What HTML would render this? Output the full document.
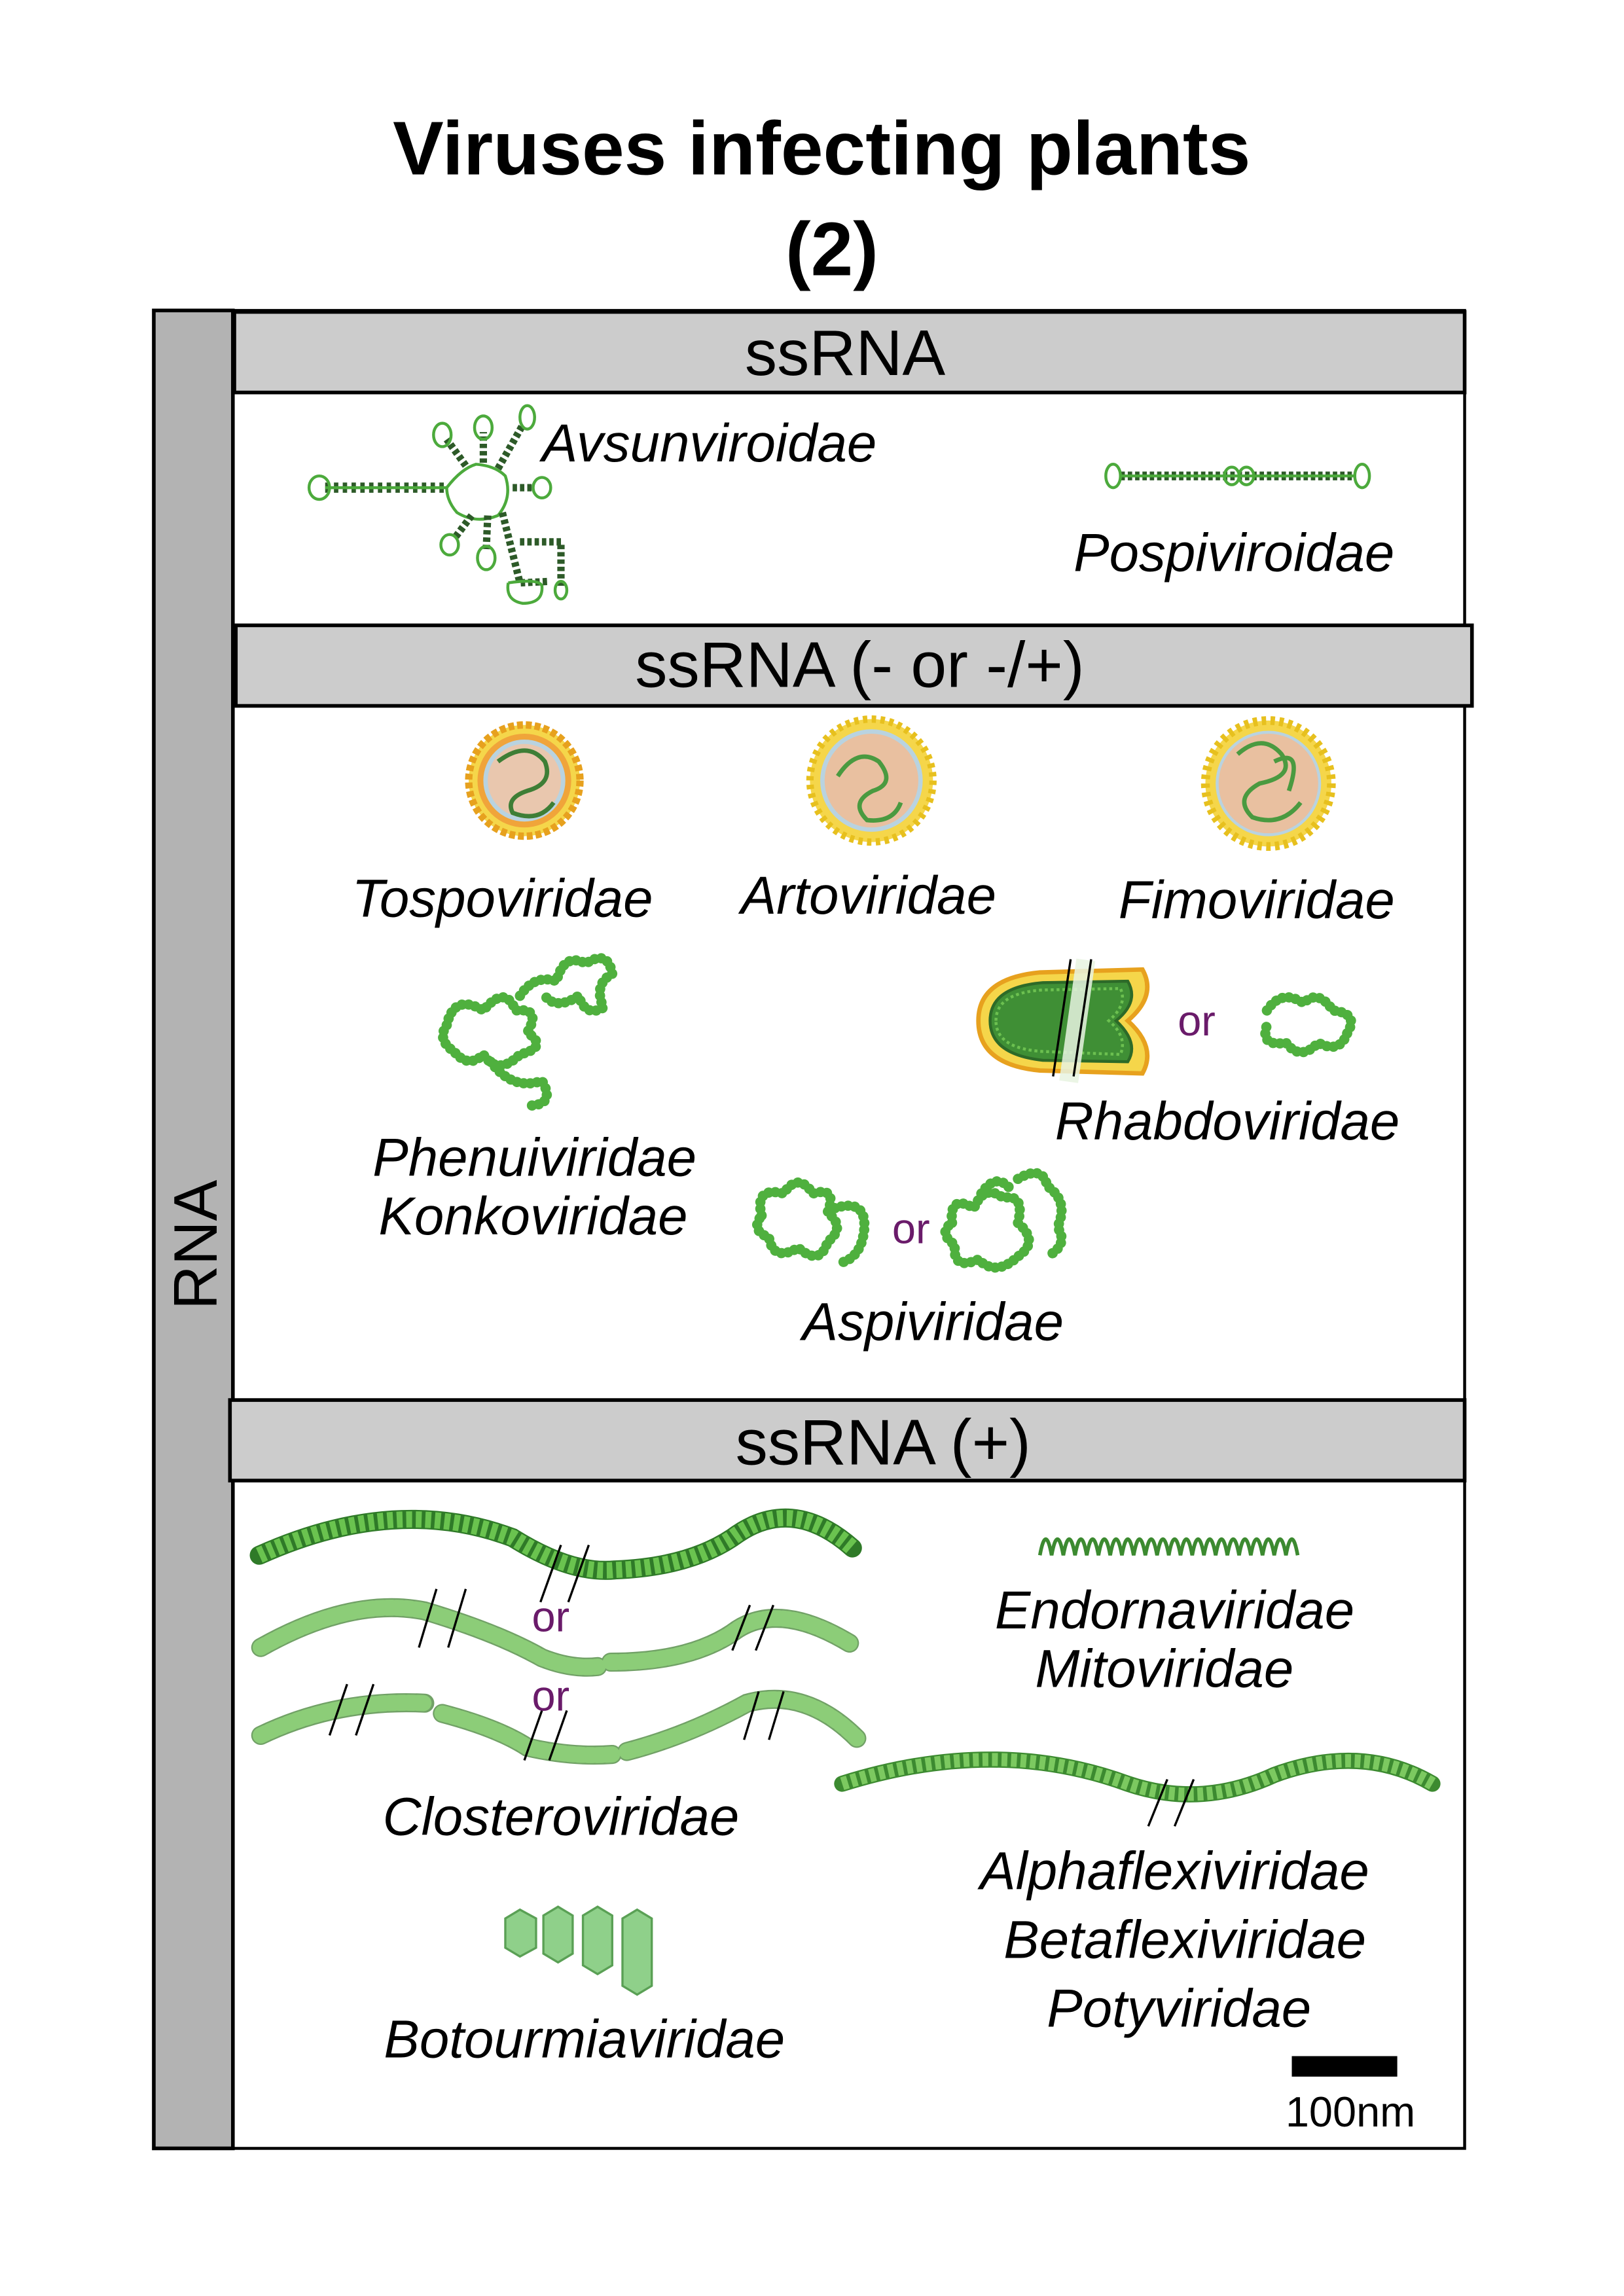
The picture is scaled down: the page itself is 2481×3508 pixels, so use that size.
<!DOCTYPE html>
<html><head><meta charset="utf-8"><style>
html,body{margin:0;padding:0;background:#fff;}
svg{display:block;}
text{font-family:"Liberation Sans",sans-serif;}
.lab{font-size:36.5px;font-style:italic;fill:#000;}
.hd{font-size:44px;fill:#000;}
.or{font-size:29px;fill:#6a1b6a;}
</style></head><body>
<svg width="2481" height="3508" viewBox="0 0 1108.8 1567.8" xmlns="http://www.w3.org/2000/svg">
<rect width="1108.8" height="1567.8" fill="#fff"/>
<text x="561" y="119" text-anchor="middle" font-size="52" font-weight="bold">Viruses infecting plants</text>
<text x="568" y="188" text-anchor="middle" font-size="52" font-weight="bold">(2)</text>

<rect x="105" y="212" width="54" height="1255" fill="#b3b3b3" stroke="#000" stroke-width="2.5"/>
<rect x="159" y="212" width="841" height="1255" fill="none" stroke="#000" stroke-width="2"/>
<text transform="translate(148,850) rotate(-90)" text-anchor="middle" font-size="42">RNA</text>

<rect x="160" y="213" width="840" height="55" fill="#cccccc" stroke="#000" stroke-width="2.5"/>
<text class="hd" x="577" y="256" text-anchor="middle">ssRNA</text>
<rect x="161" y="427" width="844" height="55" fill="#cccccc" stroke="#000" stroke-width="2.5"/>
<text class="hd" x="587" y="469" text-anchor="middle">ssRNA (- or -/+)</text>
<rect x="157" y="956" width="843" height="55" fill="#cccccc" stroke="#000" stroke-width="2.5"/>
<text class="hd" x="603" y="1000" text-anchor="middle">ssRNA (+)</text>

<!-- Avsunviroidae -->
<g fill="none" stroke="#4caa3c" stroke-width="2">
<path d="M222,333 L305,333" stroke="#2d5a28" stroke-width="7" stroke-dasharray="3 3"/>
<path d="M222,333 L305,333" />
<ellipse cx="218" cy="333" rx="7" ry="8"/>
<path d="M305,333 Q315,320 325,317 Q338,318 345,325 Q350,340 340,352 Q325,358 312,350 Q305,342 305,333"/>
<path d="M318,318 L305,300 M330,316 L330,295 M340,320 L357,290 M350,333 L365,333 M322,352 L310,368 M333,352 L332,375 M343,350 L355,398 L375,397 M355,370 L383,370 L383,400" stroke="#2d5a28" stroke-width="5" stroke-dasharray="3 2"/>
<ellipse cx="302" cy="297" rx="6" ry="8"/><ellipse cx="330" cy="292" rx="6" ry="8"/><ellipse cx="360" cy="285" rx="5" ry="8"/>
<ellipse cx="370" cy="333" rx="6" ry="7"/><ellipse cx="307" cy="372" rx="6" ry="7"/><ellipse cx="332" cy="381" rx="6" ry="8"/>
<path d="M347,398 Q345,410 357,412 Q371,412 370,400 Q368,395 347,398"/><ellipse cx="383" cy="403" rx="4" ry="6"/>
</g>
<text class="lab" x="370" y="315">Avsunviroidae</text>

<g fill="none" stroke="#4caa3c" stroke-width="2">
<path d="M765,325 L925,325" stroke="#2d5a28" stroke-width="6" stroke-dasharray="3 2"/>
<path d="M765,325 L925,325"/>
<ellipse cx="760" cy="325" rx="5" ry="8"/><ellipse cx="930" cy="325" rx="5" ry="8"/>
<ellipse cx="841" cy="325" rx="5" ry="6"/><ellipse cx="851" cy="325" rx="5" ry="6"/>
</g>
<text class="lab" x="733" y="390">Pospiviroidae</text>

<g>
<circle cx="358" cy="533" r="38" fill="#f5d64a" stroke="#e7a11e" stroke-width="5" stroke-dasharray="4 2"/>
<circle cx="358" cy="533" r="32" fill="#f0a43a"/>
<circle cx="358" cy="533" r="28" fill="#b9d3e0"/>
<circle cx="358" cy="533" r="25" fill="#e9c7ae"/>
<path d="M340,520 Q360,505 372,520 Q378,535 360,540 Q345,545 350,555 Q368,562 378,548" fill="none" stroke="#3e7e36" stroke-width="3"/>
<circle cx="595" cy="533" r="42" fill="#f5d64a" stroke="#e7c01e" stroke-width="5" stroke-dasharray="3 3"/>
<circle cx="595" cy="533" r="35" fill="#b9d3e0"/>
<circle cx="595" cy="533" r="32" fill="#e9c0a0"/>
<path d="M572,530 Q585,510 600,520 Q612,535 596,540 Q580,548 592,560 Q610,562 615,548" fill="none" stroke="#4a9a40" stroke-width="3"/>
<circle cx="866" cy="535" r="43" fill="#f5d64a" stroke="#e7c01e" stroke-width="6" stroke-dasharray="3 3"/>
<circle cx="866" cy="535" r="36" fill="#b9d3e0"/>
<circle cx="866" cy="535" r="34" fill="#e9c0a0"/>
<path d="M845,515 Q862,500 875,515 Q885,530 860,535 Q842,545 855,558 Q875,565 888,548 M870,520 Q890,510 880,540" fill="none" stroke="#4a9a40" stroke-width="3"/>
</g>
<text class="lab" x="343" y="626" text-anchor="middle">Tospoviridae</text>
<text class="lab" x="593" y="624" text-anchor="middle">Artoviridae</text>
<text class="lab" x="858" y="627" text-anchor="middle">Fimoviridae</text>

<g fill="none" stroke="#4fb03e" stroke-width="7" stroke-linecap="round" stroke-dasharray="0.1 4.5">
<path d="M305,700 Q310,678 330,690 Q345,672 352,690 Q370,688 360,705 Q375,715 355,720 Q340,735 330,720 Q320,730 310,718 Q298,710 305,700"/>
<path d="M335,725 Q350,745 370,738 Q380,755 360,755"/>
<path d="M355,680 Q365,665 380,670 Q385,650 400,658 Q415,648 418,665 Q405,672 412,688 Q400,695 395,680 Q380,690 372,680"/>
<path d="M865,690 Q875,675 890,685 Q900,675 910,690 Q928,692 920,705 Q915,720 900,712 Q888,725 878,712 Q860,715 865,700"/>
<path d="M520,830 Q515,810 535,815 Q545,800 555,815 Q572,810 565,828 Q578,838 565,848 Q560,865 545,852 Q528,862 525,845 Q512,840 520,830"/>
<path d="M570,825 Q592,818 590,840 Q588,858 575,862"/>
<path d="M650,835 Q648,815 665,825 Q672,808 685,818 Q700,815 695,835 Q710,848 695,858 Q680,872 668,860 Q650,868 652,850 Q640,842 650,835"/>
<path d="M695,805 Q712,795 715,810 Q730,820 722,838 Q730,850 715,858"/>
<path d="M670,815 Q680,800 690,812"/>
</g>
<text class="lab" x="365" y="803" text-anchor="middle">Phenuiviridae</text>
<text class="lab" x="364" y="843" text-anchor="middle">Konkoviridae</text>

<path d="M668,697 Q668,668 710,664 L780,662 Q790,680 770,697 Q790,715 780,733 L710,731 Q668,727 668,697 Z" fill="#f5d64a" stroke="#e7a11e" stroke-width="3"/>
<path d="M676,697 Q676,674 712,671 L770,670 Q778,684 762,697 Q778,712 770,725 L712,724 Q676,720 676,697 Z" fill="#3f8f35" stroke="#2d6a28" stroke-width="2"/>
<path d="M680,697 Q680,678 712,676 L765,675 Q770,686 757,697 Q770,708 765,720 L712,718 Q680,716 680,697 Z" fill="none" stroke="#6cc050" stroke-width="2" stroke-dasharray="2 2"/>
<rect x="729" y="655" width="13" height="84" fill="#e8f3e0" opacity="0.85" transform="rotate(8 735 697)"/>
<line x1="731" y1="655" x2="719" y2="735" stroke="#000" stroke-width="1.5"/>
<line x1="745" y1="655" x2="733" y2="735" stroke="#000" stroke-width="1.5"/>
<text class="or" x="817" y="707" text-anchor="middle">or</text>
<text class="lab" x="838" y="778" text-anchor="middle">Rhabdoviridae</text>
<text class="or" x="622" y="849" text-anchor="middle">or</text>
<text class="lab" x="637" y="915" text-anchor="middle">Aspiviridae</text>

<!-- Closteroviridae rods -->
<g fill="none" stroke-linecap="round">
<path d="M177,1062 Q270,1020 350,1050 Q390,1075 420,1072 Q470,1070 500,1050 Q540,1020 582,1057" stroke="#2f7a28" stroke-width="13"/>
<path d="M177,1062 Q270,1020 350,1050 Q390,1075 420,1072 Q470,1070 500,1050 Q540,1020 582,1057" stroke="#6ac34f" stroke-width="11" stroke-dasharray="4 2.5" stroke-linecap="butt"/>
<g stroke="#4e8a40" stroke-width="13" opacity="0.8">
<path d="M178,1125 Q240,1090 290,1100 Q340,1115 370,1132 Q390,1140 408,1138"/>
<path d="M417,1135 Q470,1135 500,1115 Q530,1092 580,1122"/>
<path d="M178,1185 Q230,1160 290,1163"/>
<path d="M302,1170 Q340,1180 360,1193 Q390,1200 418,1198"/>
<path d="M428,1196 Q470,1185 510,1163 Q550,1152 585,1187"/>
</g>
<g stroke="#8fd27a" stroke-width="11" stroke-dasharray="4 2.5" opacity="0.9">
<path d="M178,1125 Q240,1090 290,1100 Q340,1115 370,1132 Q390,1140 408,1138"/>
<path d="M417,1135 Q470,1135 500,1115 Q530,1092 580,1122"/>
<path d="M178,1185 Q230,1160 290,1163"/>
<path d="M302,1170 Q340,1180 360,1193 Q390,1200 418,1198"/>
<path d="M428,1196 Q470,1185 510,1163 Q550,1152 585,1187"/>
</g>
</g>
<g stroke="#000" stroke-width="1.5">
<line x1="383" y1="1055" x2="369" y2="1094"/><line x1="402" y1="1055" x2="388" y2="1094"/>
<line x1="298" y1="1085" x2="286" y2="1125"/><line x1="318" y1="1085" x2="306" y2="1125"/>
<line x1="512" y1="1096" x2="500" y2="1127"/><line x1="528" y1="1096" x2="516" y2="1127"/>
<line x1="237" y1="1150" x2="225" y2="1185"/><line x1="255" y1="1150" x2="243" y2="1185"/>
<line x1="370" y1="1168" x2="358" y2="1202"/><line x1="387" y1="1168" x2="375" y2="1202"/>
<line x1="518" y1="1155" x2="508" y2="1188"/><line x1="535" y1="1155" x2="525" y2="1188"/>
</g>
<text class="or" x="376" y="1114" text-anchor="middle">or</text>
<text class="or" x="376" y="1168" text-anchor="middle">or</text>
<text class="lab" x="383" y="1253" text-anchor="middle">Closteroviridae</text>

<path d="M710,1062 Q714,1040 718,1062 Q722,1040 726,1062 Q730,1040 734,1062 Q738,1040 742,1062 Q746,1040 750,1062 Q754,1040 758,1062 Q762,1040 766,1062 Q770,1040 774,1062 Q778,1040 782,1062 Q786,1040 790,1062 Q794,1040 798,1062 Q802,1040 806,1062 Q810,1040 814,1062 Q818,1040 822,1062 Q826,1040 830,1062 Q834,1040 838,1062 Q842,1040 846,1062 Q850,1040 854,1062 Q858,1040 862,1062 Q866,1040 870,1062 Q874,1040 878,1062 Q882,1040 886,1062" fill="none" stroke="#3c8a30" stroke-width="2.5"/>
<text class="lab" x="802" y="1112" text-anchor="middle">Endornaviridae</text>
<text class="lab" x="795" y="1152" text-anchor="middle">Mitoviridae</text>

<path d="M575,1218 Q680,1185 770,1218 Q820,1235 870,1212 Q930,1190 978,1218" fill="none" stroke="#3c8a30" stroke-width="11" stroke-linecap="round"/>
<path d="M575,1218 Q680,1185 770,1218 Q820,1235 870,1212 Q930,1190 978,1218" fill="none" stroke="#7cc960" stroke-width="9" stroke-dasharray="4 2.5"/>
<line x1="797" y1="1215" x2="784" y2="1247" stroke="#000" stroke-width="1.5"/>
<line x1="815" y1="1215" x2="802" y2="1247" stroke="#000" stroke-width="1.5"/>
<text class="lab" x="802" y="1290" text-anchor="middle">Alphaflexiviridae</text>
<text class="lab" x="809" y="1337" text-anchor="middle">Betaflexiviridae</text>
<text class="lab" x="805" y="1384" text-anchor="middle">Potyviridae</text>

<g fill="#8fd08a" stroke="#5aa055" stroke-width="1.5">
<polygon points="345,1310 355,1304 366,1310 366,1330 355,1336 345,1330"/>
<polygon points="371,1308 381,1302 391,1308 391,1334 381,1340 371,1334"/>
<polygon points="398,1308 408,1302 418,1308 418,1342 408,1348 398,1342"/>
<polygon points="425,1310 435,1304 445,1310 445,1356 435,1362 425,1356"/>
</g>
<text class="lab" x="399" y="1405" text-anchor="middle">Botourmiaviridae</text>

<rect x="882" y="1404" width="72" height="14" fill="#000"/>
<text x="922" y="1452" text-anchor="middle" font-size="29">100nm</text>
</svg>
</body></html>
